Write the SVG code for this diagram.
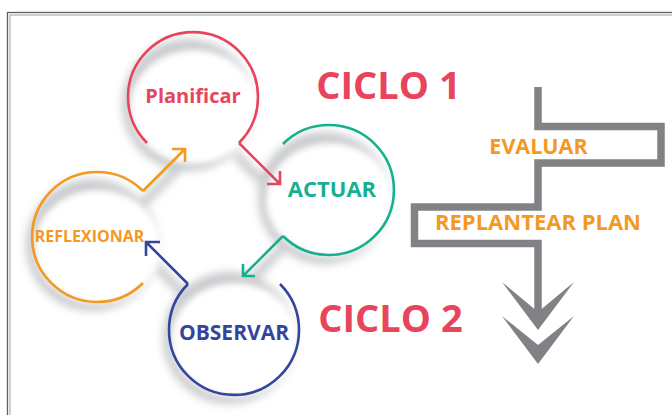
<svg xmlns="http://www.w3.org/2000/svg" width="672" height="415" viewBox="0 0 672 415">
<defs>
<filter id="blur4" x="-30%" y="-30%" width="160%" height="160%"><feGaussianBlur stdDeviation="4"/></filter>
<filter id="blur3" x="-30%" y="-30%" width="160%" height="160%"><feGaussianBlur stdDeviation="3"/></filter>
<style>
.lbl{font-family:"Open Sans","Liberation Sans",sans-serif;font-weight:700;text-anchor:middle}
.ring{fill:none;stroke-width:2.6;stroke-linecap:butt;stroke-linejoin:miter}
.sh{fill:#c9cacd}
.shl{stroke:#c9cacd;stroke-width:9;fill:none}
.wd{fill:#fff}
.red{stroke:#e8445c}.teal{stroke:#17b08f}.blue{stroke:#34469c}.orange{stroke:#f5981f}
.gray{fill:none;stroke:#808285;stroke-width:7.5;stroke-linejoin:miter}
</style>
</defs>
<rect width="672" height="415" fill="#fff"/>
<rect x="7.5" y="12.5" width="700" height="450" fill="none" stroke="#5f5f5f" stroke-width="1.3"/>
<rect x="10" y="15" width="700" height="450" fill="none" stroke="#a0a0a0" stroke-width="1"/>

<g id="shadows">
  <g filter="url(#blur4)">
    <circle class="sh" cx="188" cy="105" r="66"/>
    <circle class="sh" cx="324" cy="198" r="66"/>
    <circle class="sh" cx="229" cy="338" r="66"/>
    <circle class="sh" cx="92" cy="245" r="66"/>
    <path class="shl" d="M236,155 L276,195 M281,249 L245,287 M186,296 L150,260 M143,203 L181,165"/>
  </g>
  <g filter="url(#blur3)">
    <ellipse class="wd" cx="194" cy="107" rx="64" ry="57"/>
    <ellipse class="wd" cx="330" cy="200" rx="64" ry="57"/>
    <ellipse class="wd" cx="235" cy="340" rx="64" ry="57"/>
    <ellipse class="wd" cx="98" cy="247" rx="64" ry="57"/>
  </g>
</g>

<g id="connectors">
  <path class="ring red" d="M239,143 L280,184 M267,184 L280,184 L280,171"/>
  <path class="ring teal" d="M283,236 L243,276 M255,276 L243,276 L243,264"/>
  <path class="ring blue" d="M188,284 L146,242 M160,242 L146,242 L146,256"/>
  <path class="ring orange" d="M143,191 L185,149 M172,149 L185,149 L185,162"/>
</g>

<g id="planificar">
  <path class="ring red" d="M147,143 A65,65 0 1 1 239,143"/>
  <text class="lbl" x="193" y="103" font-size="20" fill="#e8445c">Planificar</text>
</g>
<g id="actuar">
  <path class="ring teal" d="M283,144 A65,65 0 1 1 283,236"/>
  <text class="lbl" x="332" y="197" font-size="22" fill="#17b08f">ACTUAR</text>
</g>
<g id="observar">
  <path class="ring blue" d="M280,284 A65,65 0 1 1 188,284"/>
  <text class="lbl" x="234" y="340" font-size="21" fill="#34469c">OBSERVAR</text>
</g>
<g id="reflexionar">
  <path class="ring orange" d="M143,283 A65,65 0 1 1 143,191"/>
  <text class="lbl" x="89.5" y="242" font-size="16" fill="#f5981f">REFLEXIONAR</text>
</g>

<g id="ciclo1"><text class="lbl" x="388.5" y="99" font-size="38" fill="#e8445c">CICLO 1</text></g>
<g id="ciclo2"><text class="lbl" x="390.5" y="332" font-size="38" fill="#e8445c">CICLO 2</text></g>

<g id="steps">
  <path class="gray" d="M538,87 V126.5 H661 V163 H538 V207 H414.5 V243.5 H538 V312"/>
  <polygon fill="#808285" points="502,282 538,312 574,282 538,330"/>
  <polygon fill="#808285" points="502,316 538,345 574,316 538,364"/>
</g>
<g id="evaluar"><text class="lbl" x="538.5" y="154" font-size="21.5" fill="#f5981f">EVALUAR</text></g>
<g id="replantear"><text class="lbl" x="538" y="230" font-size="22" fill="#f5981f">REPLANTEAR PLAN</text></g>
</svg>
